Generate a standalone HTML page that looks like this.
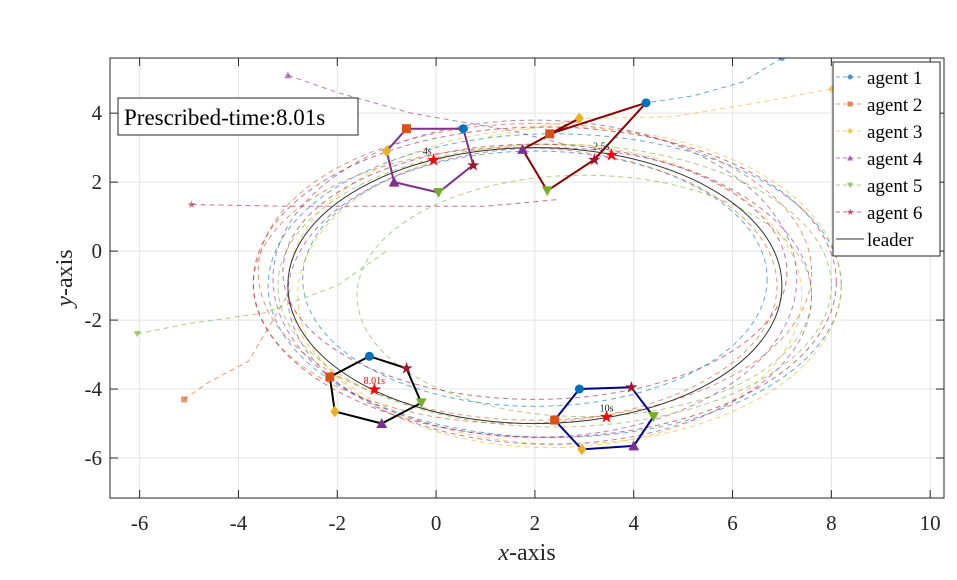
<!DOCTYPE html>
<html><head><meta charset="utf-8">
<style>
body{margin:0;background:#fff;}
svg{display:block;font-family:"Liberation Serif",serif;}
</style></head>
<body>
<svg id="chart" width="957" height="580"></svg>
<script>
const xTicks=[-6,-4,-2,0,2,4,6,8,10];
const yTicks=[-6,-4,-2,0,2,4];
const agentNames=["agent 1","agent 2","agent 3","agent 4","agent 5","agent 6"];
const agentColors=["#0072BD","#D95319","#EDB120","#7E2F8E","#77AC30","#A2142F"];
const leaderCenter=[2.0,-1.0];
const leaderRadii=[5.0,4.0];
// first loop ellipses per agent
const trajCx=[2.0,1.6,2.3,2.3,2.4,2.0];
const trajCy=[-0.8,-1.0,-1.3,-1.3,-1.0,-0.6];
const trajRx=[4.7,5.3,5.1,5.3,5.6,5.1];
const trajRy=[3.7,4.0,4.4,4.3,4.1,3.7];
// second loop ellipses per agent
const traj2Cx=[2.4,2.0,2.6,2.0,3.0,2.2];
const traj2Cy=[-1.0,-0.6,-1.0,-0.8,-1.3,-0.9];
const traj2Rx=[5.8,5.6,5.6,5.3,4.6,5.9];
const traj2Ry=[4.4,4.3,4.6,4.6,3.5,4.5];
// initial transient points per agent
const startX=[[7.0,6.2,5.2,4.25,3.0],[-5.1,-4.6,-3.8,-3.3,-2.9],[8.0,6.5,4.8,3.0,1.0],[-3.0,-2.0,-0.5,1.5,2.6],[-6.05,-5.0,-3.5,-2.0,-1.0],[-4.95,-3.0,-1.0,1.0,2.5]];
const startY=[[5.6,4.9,4.5,4.3,3.7],[-4.3,-3.8,-3.2,-2.0,-1.0],[4.7,4.3,3.9,3.85,3.3],[5.1,4.6,4.0,3.5,3.1],[-2.4,-2.1,-1.8,-1.0,0.0],[1.35,1.3,1.3,1.3,1.5]];
const formTimes=["2.5s","4s","8.01s","10s"];
const formColors=["#8B0000","#7E2F8E","#000000","#00008B"];
const formX=[[4.25,2.3,2.9,1.75,2.25,3.2],[0.55,-0.6,-1.0,-0.85,0.05,0.75],[-1.35,-2.15,-2.05,-1.1,-0.3,-0.6],[2.9,2.4,2.95,4.0,4.4,3.95]];
const formY=[[4.3,3.4,3.85,2.95,1.75,2.65],[3.55,3.55,2.9,2.0,1.7,2.5],[-3.05,-3.65,-4.65,-5.0,-4.4,-3.4],[-4.0,-4.9,-5.75,-5.65,-4.8,-3.95]];
const starX=[3.55,-0.05,-1.25,3.45];
const starY=[2.8,2.65,-4.0,-4.8];

const L=110,R=944,T=58,B=498,x0=-6.6,x1=10.28,y0=-7.16,y1=5.6;
const sx=v=>L+(v-x0)/(x1-x0)*(R-L);
const sy=v=>B-(v-y0)/(y1-y0)*(B-T);
const NS="http://www.w3.org/2000/svg";
const svg=document.getElementById('chart');
function mk(tag,attrs,parent){const e=document.createElementNS(NS,tag);for(const k in attrs)e.setAttribute(k,attrs[k]);(parent||svg).appendChild(e);return e;}
mk('rect',{x:L,y:T,width:R-L,height:B-T,fill:'#fff'});
xTicks.forEach(t=>{const g=mk('line',{x1:sx(t),x2:sx(t),y1:T,y2:B,stroke:'#e3e3e3'});
 const tx=mk('text',{x:sx(t),y:530,'text-anchor':'middle','font-size':21,fill:'#262626'});tx.textContent=t;
 mk('line',{x1:sx(t),x2:sx(t),y1:B,y2:B-8,stroke:'#262626'});mk('line',{x1:sx(t),x2:sx(t),y1:T,y2:T+8,stroke:'#262626'});});
yTicks.forEach(t=>{const g=mk('line',{x1:L,x2:R,y1:sy(t),y2:sy(t),stroke:'#e3e3e3'});
 const tx=mk('text',{x:102,y:sy(t)+7,'text-anchor':'end','font-size':21,fill:'#262626'});tx.textContent=t;
 mk('line',{x1:L,x2:L+8,y1:sy(t),y2:sy(t),stroke:'#262626'});mk('line',{x1:R,x2:R-8,y1:sy(t),y2:sy(t),stroke:'#262626'});});
const clip=mk('clipPath',{id:'pc'});mk('rect',{x:L,y:T,width:R-L,height:B-T},clip);
const plot=mk('g',{'clip-path':'url(#pc)'});
const kx=(R-L)/(x1-x0),ky=(B-T)/(y1-y0);
function ell(cx,cy,rx,ry){return `M${sx(cx+rx)},${sy(cy)} A${rx*kx},${ry*ky} 0 1 1 ${sx(cx-rx)},${sy(cy)} A${rx*kx},${ry*ky} 0 1 1 ${sx(cx+rx)},${sy(cy)}`;}
for(let i=0;i<6;i++){
 const p=mk('path',{d:ell(trajCx[i],trajCy[i],trajRx[i],trajRy[i]),fill:'none',stroke:agentColors[i],'stroke-opacity':0.6,'stroke-dasharray':'5 4','stroke-width':1},plot);
 
 const p2=mk('path',{d:ell(traj2Cx[i],traj2Cy[i],traj2Rx[i],traj2Ry[i]),fill:'none',stroke:agentColors[i],'stroke-opacity':0.6,'stroke-dasharray':'5 4','stroke-width':1},plot);
 
 const d='M'+startX[i].map((x,j)=>sx(x)+','+sy(startY[i][j])).join(' L');
 const q=mk('path',{d:d,fill:'none',stroke:agentColors[i],'stroke-opacity':0.6,'stroke-dasharray':'5 4'},plot);
 
}
const lp=mk('path',{d:ell(leaderCenter[0],leaderCenter[1],leaderRadii[0],leaderRadii[1]),fill:'none',stroke:'#333','stroke-width':1},plot);

function marker(i,x,y,s,parent,op){
 const c=agentColors[i];let e;
 if(i==0)e=mk('circle',{cx:x,cy:y,r:s},parent);
 else if(i==1)e=mk('rect',{x:x-s,y:y-s,width:2*s,height:2*s},parent);
 else if(i==2)e=mk('polygon',{points:`${x},${y-s*1.3} ${x+s},${y} ${x},${y+s*1.3} ${x-s},${y}`},parent);
 else if(i==3)e=mk('polygon',{points:`${x},${y-s*1.2} ${x+s*1.2},${y+s} ${x-s*1.2},${y+s}`},parent);
 else if(i==4)e=mk('polygon',{points:`${x},${y+s*1.2} ${x+s*1.2},${y-s} ${x-s*1.2},${y-s}`},parent);
 else e=mk('text',{x:x,y:y+s*1.2,'text-anchor':'middle','font-size':s*3.5},parent),e.textContent='★';
 e.setAttribute('fill',c);if(op)e.setAttribute('opacity',op);return e;}
formTimes.forEach((t,f)=>{
 const pts=formX[f].map((x,j)=>sx(x)+','+sy(formY[f][j])).join(' ');
 const pg=mk('polygon',{points:pts,fill:'none',stroke:formColors[f],'stroke-width':2},plot);
 
 for(let j=0;j<6;j++){const m=marker(j,sx(formX[f][j]),sy(formY[f][j]),4.5,plot);}
 const st=mk('text',{x:sx(starX[f]),y:sy(starY[f])+6,'text-anchor':'middle','font-size':17,fill:'red'},plot);st.textContent='★';
 
 const lb=mk('text',{x:sx(starX[f])-2,y:sy(starY[f])-5,'text-anchor':'end','font-size':10,fill:f==2?'red':'#222'},plot);lb.textContent=t;
 if(f==3||f==2){lb.setAttribute('text-anchor','middle');lb.setAttribute('x',sx(starX[f]));}
 
});
for(let i=0;i<6;i++){const m=marker(i,sx(startX[i][0]),sy(startY[i][0]),3,plot,0.6);}
mk('rect',{x:L,y:T,width:R-L,height:B-T,fill:'none',stroke:'#262626'});
const tb=mk('g',{});
mk('rect',{x:118,y:98,width:240,height:37,fill:'#fff',stroke:'#262626'},tb);
const tt=mk('text',{x:124,y:125,'font-size':23,fill:'#000'},tb);tt.textContent='Prescribed-time:8.01s';
const lg=mk('g',{});
mk('rect',{x:833,y:62,width:107,height:194,fill:'#fff',stroke:'#262626'},lg);
agentNames.concat(['leader']).forEach((n,i)=>{
 const y=77+i*27;const e=mk('g',{},lg);
 
 if(i<6){mk('line',{x1:836,x2:864,y1:y,y2:y,stroke:agentColors[i],'stroke-opacity':0.6,'stroke-dasharray':'4 3'},e);marker(i,850,y,2.5,e,0.7);}
 else mk('line',{x1:836,x2:864,y1:y,y2:y,stroke:'#333'},e);
 const t=mk('text',{x:867,y:y+7,'font-size':19,fill:'#000'},e);t.textContent=n;
});
const xl=mk('text',{x:527,y:560,'text-anchor':'middle','font-size':24,fill:'#262626'});xl.innerHTML='<tspan font-style="italic">x</tspan>-axis';

const yl=mk('text',{x:0,y:0,'text-anchor':'middle','font-size':24,fill:'#262626',transform:'translate(72,278) rotate(-90)'});yl.innerHTML='<tspan font-style="italic">y</tspan>-axis';

</script>
</body></html>
